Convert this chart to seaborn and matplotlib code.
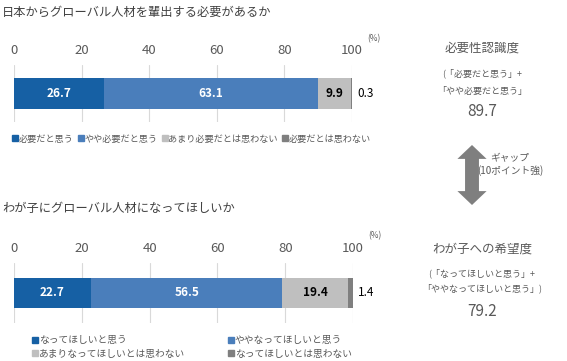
import numpy as np
import pandas as pd
import matplotlib
matplotlib.use("Agg")
import matplotlib.pyplot as plt
import seaborn as sns
from matplotlib.lines import Line2D
from matplotlib.patches import FancyArrowPatch

# data
q1_title = "日本からグローバル人材を輩出する必要があるか"
q1_labels = ["必要だと思う", "やや必要だと思う", "あまり必要だとは思わない", "必要だとは思わない"]
q1_values = [26.7, 63.1, 9.9, 0.3]
q1_summary = 89.7

q2_title = "わが子にグローバル人材になってほしいか"
q2_labels = ["なってほしいと思う", "ややなってほしいと思う", "あまりなってほしいとは思わない", "なってほしいとは思わない"]
q2_values = [22.7, 56.5, 19.4, 1.4]
q2_summary = 79.2

xticks = [0, 20, 40, 60, 80, 100]
colors = ["#1660A4", "#4A7EBB", "#BFBFBF", "#7F7F7F"]
text_colors = ["white", "white", "black", "black"]

sns.set_style("white")
plt.rcParams['font.family'] = ['Noto Sans CJK JP', 'DejaVu Sans']
gray = "#595959"

fig = plt.figure(figsize=(5.67, 3.61), dpi=100)


def stacked_bar(ax, values, bar_h):
    cum = np.cumsum(values)
    # draw cumulative totals from the longest down so they stack visually
    for i in reversed(range(len(values))):
        df = pd.DataFrame({"v": [cum[i]], "q": ["q"]})
        sns.barplot(data=df, x="v", y="q", orient="h", color=colors[i],
                    width=bar_h, saturation=1, linewidth=0, ax=ax)
    for i, v in enumerate(values):
        mid = cum[i] - v / 2
        if v >= 5:
            ax.text(mid, 0, f"{v}", ha="center", va="center", fontsize=8.5,
                    color=text_colors[i], fontweight="bold")
        else:
            ax.text(101.5, 0, f"{v}", ha="left", va="center", fontsize=8.5,
                    color="black")
    ax.set_xlim(0, 100)
    ax.set_ylim(0.5, -0.5)
    ax.set_xticks(xticks)
    ax.xaxis.tick_top()
    ax.tick_params(axis="x", length=0, labelsize=9.5, labelcolor=gray, pad=6)
    ax.set_yticks([])
    ax.set_xlabel("")
    ax.set_ylabel("")
    for s in ax.spines.values():
        s.set_visible(False)
    ax.grid(axis="x", color="#D9D9D9", linewidth=0.8)
    ax.set_axisbelow(True)
    ax.text(1.045, 1.38, "(%)", transform=ax.transAxes, fontsize=6,
            color=gray, ha="left", va="bottom")


ax1 = fig.add_axes([14 / 567, 1 - 122 / 361, 338 / 567, 57 / 361])
stacked_bar(ax1, q1_values, 0.54)
ax2 = fig.add_axes([14 / 567, 1 - 323 / 361, 339 / 567, 60 / 361])
stacked_bar(ax2, q2_values, 0.5)

fig.text(2 / 567, 1 - 12 / 361, q1_title, fontsize=8.8, color="#404040", va="center")
fig.text(2 / 567, 1 - 208 / 361, q2_title, fontsize=8.8, color="#404040", va="center")

# legends
h1 = [Line2D([], [], marker="s", linestyle="", color=c, markersize=4) for c in colors]
fig.legend(h1, q1_labels, loc="center left", bbox_to_anchor=(12 / 567, 1 - 139 / 361),
           ncol=4, frameon=False, fontsize=6.6, handlelength=0.6, handletextpad=0.1,
           columnspacing=0.5, labelcolor=gray, borderaxespad=0, borderpad=0)
h2 = [Line2D([], [], marker="s", linestyle="", color=c, markersize=4) for c in colors]
order = [0, 2, 1, 3]
fig.legend([h2[i] for i in order], [q2_labels[i] for i in order], loc="center left",
           bbox_to_anchor=(32 / 567, 1 - 347 / 361), ncol=2, frameon=False, fontsize=7,
           handlelength=0.6, handletextpad=0.1, columnspacing=4.4, labelspacing=0.35,
           labelcolor=gray, borderaxespad=0, borderpad=0)

# right-side summary texts
cx = 482 / 567
fig.text(cx, 1 - 48 / 361, "必要性認識度", fontsize=9, color=gray, ha="center", va="center")
fig.text(cx, 1 - 73 / 361, "(「必要だと思う」+", fontsize=6.5, color=gray, ha="center", va="center")
fig.text(cx, 1 - 91 / 361, "「やや必要だと思う」", fontsize=6.5, color=gray, ha="center", va="center")
fig.text(cx, 1 - 112 / 361, f"{q1_summary:.1f}", fontsize=11, color=gray, ha="center", va="center")

fig.text(cx, 1 - 249 / 361, "わが子への希望度", fontsize=9, color=gray, ha="center", va="center")
fig.text(cx, 1 - 273 / 361, "(「なってほしいと思う」+", fontsize=6.5, color=gray, ha="center", va="center")
fig.text(cx, 1 - 288 / 361, "「ややなってほしいと思う」)", fontsize=6.5, color=gray, ha="center", va="center")
fig.text(cx, 1 - 312 / 361, f"{q2_summary:.1f}", fontsize=11, color=gray, ha="center", va="center")

# gap arrow
ax_x = 472 / 567
y_mid = 1 - 175 / 361
for y_end in (1 - 145 / 361, 1 - 205 / 361):
    arr = FancyArrowPatch((ax_x, y_mid), (ax_x, y_end), transform=fig.transFigure,
                          arrowstyle="simple,head_length=0.5,head_width=1.05,tail_width=0.5",
                          mutation_scale=20, color="#7F7F7F", linewidth=0,
                          shrinkA=0, shrinkB=0)
    fig.patches.append(arr)
fig.text(510 / 567, 1 - 158 / 361, "ギャップ", fontsize=7, color=gray, ha="center", va="center")
fig.text(510 / 567, 1 - 171 / 361, "(10ポイント強)", fontsize=7, color=gray, ha="center", va="center")

fig.savefig("out.png", dpi=100)
